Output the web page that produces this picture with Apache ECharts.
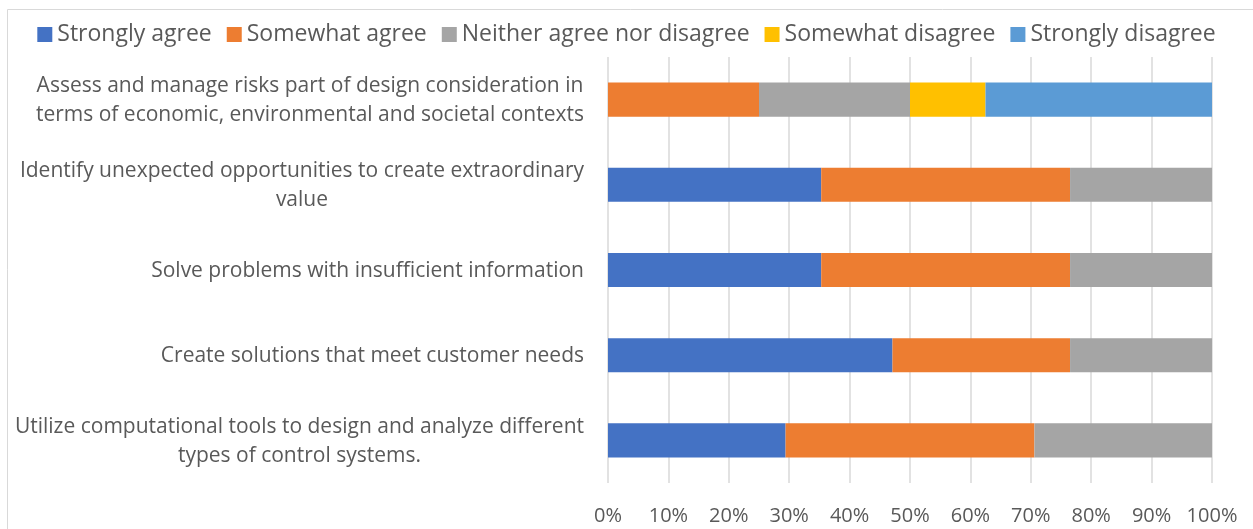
<!DOCTYPE html>
<html>
<head>
<meta charset="utf-8">
<script src="https://cdn.jsdelivr.net/npm/echarts@6/dist/echarts.min.js"></script>
<style>html,body{margin:0;padding:0;background:#fff}#c{width:1253px;height:529px}</style>
</head>
<body>
<div id="c"></div>
<script>
const categories = [
  "Assess and manage risks part of design consideration in\nterms of economic, environmental and societal contexts",
  "Identify unexpected opportunities to create extraordinary\nvalue",
  "Solve problems with insufficient information",
  "Create solutions that meet customer needs",
  "Utilize computational tools to design and analyze different\ntypes of control systems."
];
const seriesNames = ["Strongly agree", "Somewhat agree", "Neither agree nor disagree", "Somewhat disagree", "Strongly disagree"];
const stronglyAgree    = [0,    35.3, 35.3, 47.1, 29.4];
const somewhatAgree    = [25,   41.2, 41.2, 29.4, 41.2];
const neither          = [25,   23.5, 23.5, 23.5, 29.4];
const somewhatDisagree = [12.5, 0,    0,    0,    0];
const stronglyDisagree = [37.5, 0,    0,    0,    0];
const xTicks = [0, 10, 20, 30, 40, 50, 60, 70, 80, 90, 100];

const colors = ["#4472C4", "#ED7D31", "#A5A5A5", "#FFC000", "#5B9BD5"];
const values = [stronglyAgree, somewhatAgree, neither, somewhatDisagree, stronglyDisagree];
const FONT = "Open Sans";
const TXT = "#595959";

const chart = echarts.init(document.getElementById('c'));
chart.setOption({
  animation: false,
  color: colors,
  graphic: [{
    type: 'rect', shape: {x: 7.5, y: 9.5, width: 1400, height: 700},
    style: {fill: 'none', stroke: '#D9D9D9', lineWidth: 1}, silent: true, z: -10
  }],
  legend: {
    data: seriesNames,
    top: 18, left: 'center',
    itemWidth: 15, itemHeight: 15, itemGap: 15,
    icon: 'rect',
    textStyle: {fontFamily: FONT, fontSize: 23, color: TXT}
  },
  grid: {left: 608, right: 41, top: 57, bottom: 46, containLabel: false},
  xAxis: {
    type: 'value', min: 0, max: 100, interval: 10,
    axisLine: {show: false}, axisTick: {show: false},
    splitLine: {show: true, lineStyle: {color: '#D9D9D9', width: 1.5}},
    axisLabel: {
      margin: 23, fontFamily: FONT, fontSize: 20, color: TXT,
      formatter: v => xTicks.includes(v) ? v + '%' : ''
    }
  },
  yAxis: {
    type: 'category', data: categories, inverse: true,
    axisLine: {show: false}, axisTick: {show: false},
    axisLabel: {
      margin: 24, color: TXT, fontFamily: FONT, fontSize: 21,
      formatter: v => v.split('\n').map(l => '{c|' + l + '}').join('\n'),
      rich: {c: {align: 'center', fontFamily: FONT, fontSize: 21, color: TXT, lineHeight: 29, padding: [2, 0, 0, 0]}}
    }
  },
  series: seriesNames.map((name, i) => ({
    name, type: 'bar', stack: 'total', barWidth: '40%',
    data: values[i],
    itemStyle: {color: colors[i]}
  }))
});
</script>
</body>
</html>
